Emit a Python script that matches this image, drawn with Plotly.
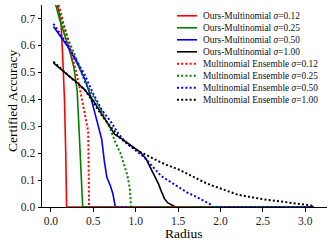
import plotly.graph_objects as go

# ---------------- data ----------------
ours_012_r = [0.05, 0.08, 0.12, 0.14, 0.16, 0.175, 0.18, 0.185, 3.1]
ours_012_a = [0.80, 0.75, 0.68, 0.55, 0.40, 0.20, 0.05, 0.0, 0.0]

ours_025_r = [0.04, 0.10, 0.17, 0.22, 0.27, 0.31, 0.33, 0.355, 0.375, 3.1]
ours_025_a = [0.77, 0.70, 0.63, 0.58, 0.52, 0.43, 0.30, 0.10, 0.0, 0.0]

ours_050_r = [0.03, 0.10, 0.20, 0.30, 0.40, 0.46, 0.52, 0.56, 0.60, 0.63, 0.66, 0.70, 0.73, 0.76, 3.1]
ours_050_a = [0.67, 0.64, 0.595, 0.54, 0.475, 0.42, 0.35, 0.30, 0.25, 0.17, 0.11, 0.08, 0.05, 0.0, 0.0]

ours_100_r = [0.03, 0.10, 0.20, 0.30, 0.40, 0.50, 0.60, 0.68, 0.75, 0.85, 0.95, 1.05, 1.12, 1.17, 1.22,
              1.27, 1.30, 1.34, 1.38, 1.42, 1.47, 3.1]
ours_100_a = [0.535, 0.515, 0.49, 0.465, 0.435, 0.395, 0.345, 0.30, 0.27, 0.25, 0.228, 0.205, 0.18, 0.15, 0.12,
              0.085, 0.06, 0.03, 0.015, 0.008, 0.0, 0.0]

ens_012_r = [0.06, 0.10, 0.20, 0.30, 0.36, 0.42, 0.44, 0.445, 0.45, 3.1]
ens_012_a = [0.78, 0.74, 0.62, 0.50, 0.41, 0.32, 0.28, 0.15, 0.0, 0.0]

ens_025_r = [0.05, 0.10, 0.20, 0.30, 0.40, 0.50, 0.60, 0.70, 0.76, 0.82, 0.87, 0.90, 0.93, 0.94, 0.945, 3.1]
ens_025_a = [0.76, 0.72, 0.625, 0.55, 0.465, 0.41, 0.355, 0.29, 0.24, 0.20, 0.15, 0.12, 0.07, 0.03, 0.0, 0.0]

ens_050_r = [0.03, 0.20, 0.40, 0.50, 0.60, 0.70, 0.80, 0.90, 1.00, 1.10, 1.20, 1.30, 1.40, 1.50,
             1.60, 1.70, 1.80, 1.88, 1.90, 3.1]
ens_050_a = [0.68, 0.60, 0.49, 0.42, 0.36, 0.32, 0.27, 0.235, 0.21, 0.185, 0.15, 0.115, 0.095, 0.075,
             0.055, 0.04, 0.025, 0.01, 0.0, 0.0]

ens_100_r = [0.03, 0.20, 0.40, 0.60, 0.70, 0.80, 0.90, 1.00, 1.10, 1.20, 1.30, 1.40, 1.50, 1.60, 1.70,
             1.80, 1.90, 2.00, 2.10, 2.20, 2.30, 2.40, 2.50, 2.60, 2.70, 2.80, 2.90, 3.00, 3.08, 3.10]
ens_100_a = [0.54, 0.49, 0.435, 0.34, 0.30, 0.26, 0.235, 0.213, 0.197, 0.18, 0.165, 0.152, 0.14, 0.125,
             0.108, 0.093, 0.08, 0.068, 0.056, 0.046, 0.04, 0.034, 0.029, 0.025, 0.021, 0.017, 0.013,
             0.009, 0.005, 0.0]

sigma_labels = ["0.12", "0.25", "0.50", "1.00"]
colors = ["#ff0000", "#008000", "#0000ff", "#000000"]

x_ticks = [0.0, 0.5, 1.0, 1.5, 2.0, 2.5, 3.0]
y_ticks = [0.0, 0.1, 0.2, 0.3, 0.4, 0.5, 0.6, 0.7]
x_title = "Radius"
y_title = "Certified Accuracy"

ours = [(ours_012_r, ours_012_a), (ours_025_r, ours_025_a), (ours_050_r, ours_050_a), (ours_100_r, ours_100_a)]
ens = [(ens_012_r, ens_012_a), (ens_025_r, ens_025_a), (ens_050_r, ens_050_a), (ens_100_r, ens_100_a)]

# ---------------- figure ----------------
W, H = 332, 245
ML, MR, MT, MB = 42, 5, 5, 38
PW, PH = W - ML - MR, H - MT - MB
FONT = "Liberation Serif"
SOLID_W = 1.6
DOT_W = 2.0
DOT_DASH = "2px,2.2px"

fig = go.Figure()
names = []
for (r, a), s, c in zip(ours, sigma_labels, colors):
    name = f"Ours-Multinomial <i>σ</i>={s}"
    names.append((name, c, "solid"))
    fig.add_trace(go.Scatter(x=r, y=a, mode="lines", name=name,
                             line=dict(color=c, width=SOLID_W), showlegend=False))
for (r, a), s, c in zip(ens, sigma_labels, colors):
    name = f"Multinomial Ensemble <i>σ</i>={s}"
    names.append((name, c, DOT_DASH))
    fig.add_trace(go.Scatter(x=r, y=a, mode="lines", name=name,
                             line=dict(color=c, width=DOT_W, dash=DOT_DASH), showlegend=False))

# manual compact legend (layout decoration, paper coordinates)
def px_to_paper_x(px):
    return (px - ML) / PW

def px_to_paper_y(py):
    return (H - MB - py) / PH

row0, step = 15.8, 12.0
for i, (name, c, dash) in enumerate(names):
    yy = px_to_paper_y(row0 + i * step)
    fig.add_shape(type="line", xref="paper", yref="paper",
                  x0=px_to_paper_x(177), x1=px_to_paper_x(197), y0=yy, y1=yy,
                  line=dict(color=c, width=SOLID_W if dash == "solid" else DOT_W, dash=dash))
    fig.add_annotation(xref="paper", yref="paper", x=px_to_paper_x(202.0), y=yy,
                       text=name, showarrow=False, xanchor="left", yanchor="middle",
                       borderpad=0, font=dict(family=FONT, size=9.4, color="#111111"))

# axis titles
fig.add_annotation(xref="paper", yref="paper", x=px_to_paper_x(184), y=px_to_paper_y(233),
                   text=x_title, showarrow=False, xanchor="center", yanchor="middle", borderpad=0,
                   font=dict(family=FONT, size=13.5, color="black"))
fig.add_annotation(xref="paper", yref="paper", x=px_to_paper_x(12), y=px_to_paper_y(101),
                   text=y_title, showarrow=False, xanchor="center", yanchor="middle", textangle=-90,
                   borderpad=0, font=dict(family=FONT, size=13.5, color="black"))

x_range = [-0.105, -0.105 + PW / 84.8]

fig.update_layout(
    template="none",
    width=W, height=H,
    margin=dict(l=ML, r=MR, t=MT, b=MB, pad=0),
    paper_bgcolor="white", plot_bgcolor="white",
    font=dict(family=FONT, color="#222222"),
    showlegend=False,
)
fig.update_xaxes(
    range=x_range, tickvals=x_ticks, ticktext=[f"{v:.1f}" for v in x_ticks], automargin=False,
    showgrid=False, zeroline=False, showline=True, linecolor="black", linewidth=1,
    ticks="outside", ticklen=3.5, tickwidth=1, tickcolor="black",
    tickfont=dict(family=FONT, size=11.5, color="#222222"),
)
fig.update_yaxes(
    range=[0, 0.75], tickvals=y_ticks, ticktext=[f"{v:.1f}" for v in y_ticks], automargin=False,
    showgrid=False, zeroline=False, showline=True, linecolor="black", linewidth=1,
    ticks="outside", ticklen=3.5, tickwidth=1, tickcolor="black",
    tickfont=dict(family=FONT, size=11.5, color="#222222"),
)

fig.write_html("out.html",
               config={"displayModeBar": False, "staticPlot": True},
               post_script="document.body.style.margin='0px';document.body.style.overflow='hidden';")
